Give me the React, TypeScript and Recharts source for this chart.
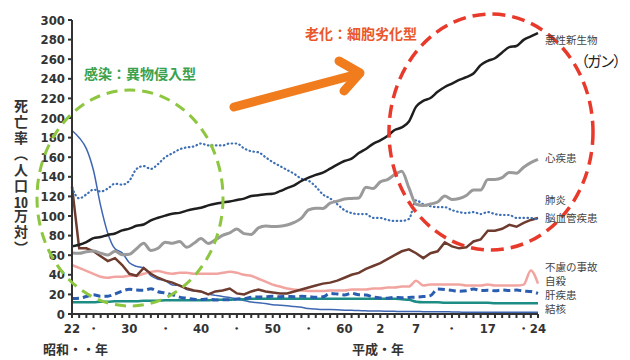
import React from 'react'
import { LineChart, Line, XAxis, YAxis } from 'recharts'

// 1947 (昭和22) .. 2012 (平成24)
const YEARS = [
  1947, 1948, 1949, 1950, 1951, 1952, 1953, 1954, 1955, 1956,
  1957, 1958, 1959, 1960, 1961, 1962, 1963, 1964, 1965, 1966,
  1967, 1968, 1969, 1970, 1971, 1972, 1973, 1974, 1975, 1976,
  1977, 1978, 1979, 1980, 1981, 1982, 1983, 1984, 1985, 1986,
  1987, 1988, 1989, 1990, 1991, 1992, 1993, 1994, 1995, 1996,
  1997, 1998, 1999, 2000, 2001, 2002, 2003, 2004, 2005, 2006,
  2007, 2008, 2009, 2010, 2011, 2012,
]

// 悪性新生物
const CANCER = [
  69.0, 70.6, 73.4, 77.4, 78.5, 80.7, 82.2, 85.3, 87.1, 90.0,
  91.3, 95.5, 98.2, 100.4, 102.3, 103.2, 105.5, 107.2, 108.4, 110.8,
  112.6, 113.8, 114.8, 116.3, 117.7, 120.4, 121.2, 122.2, 122.6, 125.3,
  128.4, 131.3, 135.7, 139.1, 142.0, 144.2, 148.3, 152.5, 156.1, 158.5,
  164.2, 168.4, 173.6, 177.2, 181.7, 187.8, 190.4, 196.4, 211.6, 217.5,
  220.4, 226.7, 231.6, 235.2, 238.8, 241.7, 245.4, 253.9, 258.3, 261.0,
  266.9, 272.3, 273.5, 279.7, 283.2, 286.6,
]

// 心疾患
const HEART = [
  62.2, 62.0, 63.5, 64.2, 62.1, 60.1, 64.0, 60.4, 60.9, 66.6,
  72.3, 64.8, 67.1, 73.2, 72.1, 74.0, 68.0, 72.1, 77.0, 71.9,
  75.7, 80.2, 82.8, 86.7, 82.0, 81.2, 87.9, 89.8, 89.2, 89.5,
  90.8, 93.4, 97.8, 106.2, 107.9, 107.7, 113.1, 115.0, 117.3, 117.9,
  118.4, 129.4, 128.1, 134.8, 137.2, 142.2, 145.6, 128.6, 112.0, 110.8,
  112.2, 114.3, 120.4, 116.8, 117.8, 121.0, 126.5, 126.5, 137.2, 137.2,
  139.2, 144.4, 143.7, 149.8, 154.5, 157.9,
]

// 脳血管疾患
const STROKE = [
  129, 118, 122, 127, 125, 128, 133, 132, 136, 148,
  151, 148, 153, 160, 164, 168, 170, 171, 174, 172,
  172, 172, 174, 174, 169, 166, 165, 160, 155, 151,
  147, 143, 138, 136, 130, 122, 118, 112, 106, 103,
  102, 102, 98, 98, 96, 95, 95, 97, 116, 112,
  110, 109, 109, 106, 104, 103, 104, 102, 104, 102,
  101, 101, 98, 98, 98, 96,
]

// 肺炎
const PNEUMONIA = [
  130, 67, 67, 64, 59, 54, 57, 50, 41, 39,
  47, 41, 37, 34, 32, 29, 26, 24, 23, 20,
  23, 24, 26, 21, 20, 23, 25, 23, 22, 21,
  21, 23, 25, 27, 29, 31, 32, 34, 37, 40,
  42, 46, 49, 52, 56, 60, 64, 66, 62, 57,
  62, 64, 73, 69, 67, 68, 74, 76, 85, 85,
  87, 91, 89, 93, 96, 98,
]

// 不慮の事故
const ACCIDENT = [
  50, 47, 44, 41, 38, 37, 38, 38, 39, 39,
  41, 43, 44, 42, 41, 42, 42, 41, 41, 41,
  41, 42, 43, 42, 40, 39, 36, 33, 30, 28,
  26, 25, 24, 23.5, 23.5, 23.5, 24, 24, 24, 25,
  25, 25, 26, 26, 27, 27, 28, 28, 34, 29,
  30, 30, 30, 30, 30, 29, 29, 29, 30, 29,
  29, 29, 29, 30, 44.5, 31,
]

// 自殺
const SUICIDE = [
  15.7, 16.0, 17.9, 19.6, 18.2, 18.2, 20.4, 23.4, 25.2, 24.5,
  24.3, 25.7, 22.7, 21.6, 19.6, 17.2, 16.1, 15.1, 14.7, 15.2,
  14.2, 14.5, 14.5, 15.3, 15.6, 17.0, 17.4, 17.5, 18.0, 17.6,
  17.9, 17.6, 18.0, 17.7, 17.1, 17.5, 21.0, 20.4, 19.4, 21.2,
  19.6, 19.4, 17.3, 16.4, 16.1, 16.9, 16.6, 16.9, 17.2, 17.8,
  18.8, 25.4, 25.0, 24.1, 23.3, 23.8, 25.5, 24.0, 24.2, 23.7,
  24.4, 24.0, 24.4, 23.4, 22.9, 21.0,
]

// 肝疾患
const LIVER = [
  12, 12, 12, 12, 12.5, 12.5, 13, 13, 13, 13,
  13.5, 13.5, 13.5, 14, 14, 14, 14, 14, 14, 14,
  14.5, 14.5, 14.5, 15, 15, 15.5, 15.5, 15.5, 15.5, 15.5,
  15.5, 15.5, 15.5, 15.5, 15.5, 15.5, 15.5, 15.5, 15.5, 15.5,
  15.5, 15.5, 15.5, 15.5, 15.5, 15.5, 15, 14.5, 12.5, 12,
  12, 12, 11.5, 11.5, 11.5, 11.5, 11.5, 11.5, 11.5, 11,
  11, 11, 11, 11, 11, 11,
]

// 結核
const TB = [
  187.2, 179.9, 168.8, 146.4, 110.3, 82.2, 66.5, 62.4, 52.3, 48.6,
  46.9, 39.0, 35.5, 34.2, 29.6, 29.3, 24.9, 23.6, 22.8, 20.3,
  19.0, 17.8, 16.9, 15.4, 13.8, 12.2, 11.6, 10.6, 9.5, 8.9,
  8.3, 7.6, 6.9, 5.5, 5.0, 4.6, 4.5, 4.3, 3.9, 3.7,
  3.5, 3.2, 3.0, 3.0, 2.8, 2.7, 2.6, 2.6, 2.6, 2.3,
  2.2, 2.2, 2.3, 2.1, 2.0, 1.8, 1.9, 1.8, 1.8, 1.7,
  1.7, 1.8, 1.7, 1.7, 1.7, 1.7,
]

const Y_TICKS = [0, 20, 40, 60, 80, 100, 120, 140, 160, 180, 200, 220, 240, 260, 280, 300]
const LABEL_YEARS = [1947, 1950, 1955, 1960, 1965, 1970, 1975, 1980, 1985, 1990, 1995, 2000, 2005, 2010, 2012]
const LABEL_TEXTS = ['22', '・', '30', '・', '40', '・', '50', '・', '60', '2', '7', '・', '17', '・', '24']

const data = YEARS.map((year, i) => ({
  year,
  cancer: CANCER[i],
  heart: HEART[i],
  stroke: STROKE[i],
  pneumonia: PNEUMONIA[i],
  accident: ACCIDENT[i],
  suicide: SUICIDE[i],
  liver: LIVER[i],
  tb: TB[i],
}))

const NUM_FONT = "'Liberation Sans Narrow', 'DejaVu Sans Condensed', 'Liberation Sans', sans-serif"
const JP_FONT = "'Noto Sans CJK JP', 'Noto Sans', sans-serif"

const tickFont = { fill: '#333', fontSize: 13, fontWeight: 700, fontFamily: NUM_FONT }

function formatYear(v: number) {
  const i = LABEL_YEARS.indexOf(v)
  return i >= 0 ? LABEL_TEXTS[i] : ''
}

function Note({ x, y, children, style }: { x: number; y: number; children: React.ReactNode; style?: React.CSSProperties }) {
  return (
    <div
      style={{
        position: 'absolute',
        left: x,
        top: y,
        transform: 'translateY(-50%)',
        whiteSpace: 'nowrap',
        fontFamily: JP_FONT,
        fontSize: 10.5,
        lineHeight: 1,
        color: '#444',
        ...style,
      }}
    >
      {children}
    </div>
  )
}

export default function App() {
  return (
    <div style={{ position: 'absolute', left: 0, top: 0, width: 630, height: 360, background: '#fff' }}>
      <LineChart width={630} height={360} data={data} margin={{ top: 20, right: 92, bottom: 16, left: 0 }}>
        <XAxis
          dataKey="year"
          type="number"
          domain={[1947, 2012]}
          ticks={YEARS}
          interval={0}
          tickFormatter={formatYear}
          tick={tickFont}
          tickSize={4}
          tickMargin={6}
          height={30}
          stroke="#333"
          strokeWidth={2}
        />
        <YAxis
          domain={[0, 300]}
          ticks={Y_TICKS}
          interval={0}
          width={72}
          tick={tickFont}
          tickSize={4}
          tickMargin={3}
          stroke="#333"
          strokeWidth={2}
        />
        <Line dataKey="tb" type="monotone" stroke="#3f66b0" strokeWidth={1.5} dot={false} isAnimationActive={false} />
        <Line dataKey="liver" type="monotone" stroke="#1d8c84" strokeWidth={2.5} dot={false} isAnimationActive={false} />
        <Line dataKey="suicide" type="monotone" stroke="#2a5db0" strokeWidth={3} strokeDasharray="7 4" dot={false} isAnimationActive={false} />
        <Line dataKey="accident" type="monotone" stroke="#f2a5a0" strokeWidth={2.5} dot={false} isAnimationActive={false} />
        <Line dataKey="pneumonia" type="linear" stroke="#6e3b2f" strokeWidth={2.5} dot={false} isAnimationActive={false} />
        <Line dataKey="stroke" type="monotone" stroke="#3d6fb5" strokeWidth={2.2} strokeDasharray="0.5 3.5" strokeLinecap="round" dot={false} isAnimationActive={false} />
        <Line dataKey="heart" type="monotone" stroke="#9a9a9a" strokeWidth={3} dot={false} isAnimationActive={false} />
        <Line dataKey="cancer" type="monotone" stroke="#1f1f1f" strokeWidth={2.5} dot={false} isAnimationActive={false} />
      </LineChart>

      <svg width={630} height={360} style={{ position: 'absolute', left: 0, top: 0, pointerEvents: 'none' }}>
        <ellipse cx={130} cy={198} rx={93} ry={108} fill="none" stroke="#8dc63f" strokeWidth={3} strokeDasharray="11 7" />
        <ellipse cx={491} cy={132} rx={102} ry={118} fill="none" stroke="#e8392a" strokeWidth={3.5} strokeDasharray="13 7" />
        <line x1={234} y1={107} x2={354} y2={75} stroke="#f07c1e" strokeWidth={9} strokeLinecap="round" />
        <polyline points="339,61 360,73 344,91" fill="none" stroke="#f07c1e" strokeWidth={9} strokeLinecap="round" strokeLinejoin="round" />
      </svg>

      <div
        style={{
          position: 'absolute',
          left: 12,
          top: 99,
          width: 16,
          writingMode: 'vertical-rl',
          fontFamily: JP_FONT,
          fontSize: 14,
          fontWeight: 700,
          letterSpacing: 2,
          lineHeight: 1,
          color: '#333',
        }}
      >
        死亡率（人口<span style={{ textCombineUpright: 'all' }}>10</span>万対）
      </div>

      <Note x={84} y={73} style={{ fontSize: 14, fontWeight: 700, color: '#3aa14e' }}>感染：異物侵入型</Note>
      <Note x={305} y={33} style={{ fontSize: 14, fontWeight: 700, color: '#e9572b' }}>老化：細胞劣化型</Note>

      <Note x={545} y={40}>悪性新生物</Note>
      <Note x={574} y={60} style={{ fontSize: 15, letterSpacing: -2, color: '#222' }}>（ガン）</Note>
      <Note x={545} y={158}>心疾患</Note>
      <Note x={545} y={200}>肺炎</Note>
      <Note x={545} y={218}>脳血管疾患</Note>
      <Note x={545} y={267}>不慮の事故</Note>
      <Note x={545} y={281}>自殺</Note>
      <Note x={545} y={295}>肝疾患</Note>
      <Note x={545} y={309}>結核</Note>

      <Note x={43} y={348} style={{ fontSize: 13, fontWeight: 700, color: '#333' }}>昭和・・年</Note>
      <Note x={352} y={348} style={{ fontSize: 13, fontWeight: 700, color: '#333' }}>平成・年</Note>
    </div>
  )
}
